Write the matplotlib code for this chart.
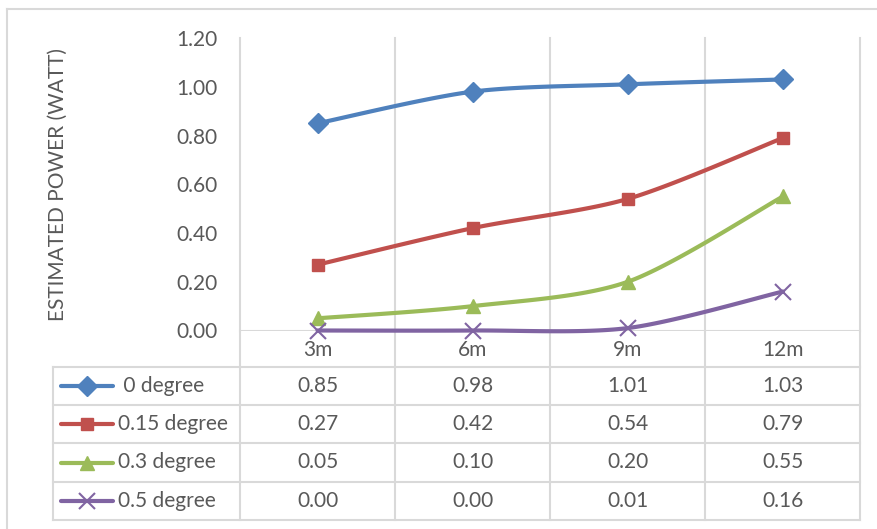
import numpy as np
import matplotlib.pyplot as plt
from matplotlib.lines import Line2D

categories = ["3m", "6m", "9m", "12m"]
series_names = [" 0 degree", "0.15 degree", "0.3 degree", "0.5 degree"]
deg_0 = [0.85, 0.98, 1.01, 1.03]
deg_015 = [0.27, 0.42, 0.54, 0.79]
deg_03 = [0.05, 0.10, 0.20, 0.55]
deg_05 = [0.00, 0.00, 0.01, 0.16]
yticks = [0.0, 0.2, 0.4, 0.6, 0.8, 1.0, 1.2]

colors = ["#4F81BD", "#C0504D", "#9BBB59", "#8064A2"]
markers = ["D", "s", "^", "x"]
msizes = [10, 9, 10, 11]
grid_c = "#D9D9D9"
text_c = "#595959"

plt.rcParams['font.family'] = ['Lato', 'DejaVu Sans']
FS = 15

W, H = 878, 529
fig = plt.figure(figsize=(W / 100, H / 100), dpi=100)

def fx(px):
    return px / W

def fy(py):
    return 1 - py / H

# outer chart border (top and left visible)
fig.add_artist(Line2D([fx(7), fx(878)], [fy(9), fy(9)], color=grid_c, lw=1.5))
fig.add_artist(Line2D([fx(7), fx(7)], [fy(9), fy(529)], color=grid_c, lw=1.5))

L, R, T, B = 240, 860.5, 38, 330.5
ax = fig.add_axes([fx(L), fy(B), fx(R) - fx(L), fy(T) - fy(B)])
ax.set_xlim(0.5, 4.5)
ax.set_ylim(0, 1.2)
for s in ax.spines.values():
    s.set_visible(False)
ax.set_xticks([])
ax.set_yticks(yticks)
ax.set_yticklabels(["%.2f" % v for v in yticks], fontsize=FS, color=text_c)
ax.tick_params(axis='y', length=0, pad=16)
ax.set_ylabel("ESTIMATED POWER (WATT)", fontsize=FS, color=text_c)
ax.yaxis.set_label_coords(-(L - 68) / (R - L), 0.5)


def smooth(xs, ys, n=40, k=7.0):
    # cardinal spline via bezier segments, close to Excel's smoothed line
    xs = np.asarray(xs, float)
    ys = np.asarray(ys, float)
    px = np.concatenate([[xs[0]], xs, [xs[-1]]])
    py = np.concatenate([[ys[0]], ys, [ys[-1]]])
    ox, oy = [], []
    t = np.linspace(0, 1, n)
    for i in range(1, len(px) - 2):
        p0 = np.array([px[i], py[i]])
        p3 = np.array([px[i + 1], py[i + 1]])
        c1 = p0 + (np.array([px[i + 1], py[i + 1]]) - np.array([px[i - 1], py[i - 1]])) / k
        c2 = p3 - (np.array([px[i + 2], py[i + 2]]) - np.array([px[i], py[i]])) / k
        b = ((1 - t) ** 3)[:, None] * p0 + (3 * (1 - t) ** 2 * t)[:, None] * c1 \
            + (3 * (1 - t) * t ** 2)[:, None] * c2 + (t ** 3)[:, None] * p3
        ox.extend(b[:, 0])
        oy.extend(b[:, 1])
    return np.array(ox), np.array(oy)


x = np.arange(1, len(categories) + 1)
all_series = [deg_0, deg_015, deg_03, deg_05]
for vals, c, m, ms in zip(all_series, colors, markers, msizes):
    sx, sy = smooth(x, vals)
    ax.plot(sx, sy, color=c, lw=3, solid_capstyle='round', zorder=3, clip_on=False)
    if m == "x":
        ax.plot(x, vals, ls='none', marker=m, ms=ms, mew=1.5, color=c, zorder=4, clip_on=False)
    else:
        ax.plot(x, vals, ls='none', marker=m, ms=ms, color=c, mec=c, zorder=4, clip_on=False)

# gridlines: vertical lines at category borders, left axis and baseline
bounds = np.arange(0.5, len(categories) + 1, 1.0)
for b in bounds:
    ax.axvline(b, color=grid_c, lw=1.5, zorder=1, clip_on=False)
ax.axhline(0, color=grid_c, lw=1.5, zorder=1)

# data table below the plot
TB = 520
tax = fig.add_axes([fx(53), fy(TB), fx(R) - fx(53), fy(B) - fy(TB)])
tax.set_zorder(-1)
tax.set_xlim(53, R)
tax.set_ylim(TB, B)
tax.axis('off')

col_px = [L + (R - L) * (b - 0.5) / len(categories) for b in bounds]
row_px = [B, 367, 405, 443, 482, TB]
for cx in col_px:
    tax.plot([cx, cx], [B, TB], color=grid_c, lw=1.5, clip_on=False)
tax.plot([53, 53], [row_px[1], TB], color=grid_c, lw=1.5, clip_on=False)
for ry in row_px[1:]:
    tax.plot([53, R], [ry, ry], color=grid_c, lw=1.5, clip_on=False)

centers = [(col_px[i] + col_px[i + 1]) / 2 for i in range(len(categories))]
for cx, cat in zip(centers, categories):
    tax.text(cx, (row_px[0] + row_px[1]) / 2 + 1, cat, ha='center', va='center',
             fontsize=FS, color=text_c)

for r, (name, vals, c, m, ms) in enumerate(zip(series_names, all_series, colors, markers, msizes)):
    yc = (row_px[r + 1] + row_px[r + 2]) / 2
    tax.plot([61, 113], [yc, yc], color=c, lw=3, solid_capstyle='round', clip_on=False)
    if m == "x":
        tax.plot([87], [yc], marker=m, ms=ms, mew=1.5, color=c, clip_on=False)
    else:
        tax.plot([87], [yc], marker=m, ms=ms, color=c, clip_on=False)
    tax.text(118, yc, name, ha='left', va='center', fontsize=FS, color=text_c)
    for cx, v in zip(centers, vals):
        tax.text(cx, yc, "%.2f" % v, ha='center', va='center', fontsize=FS, color=text_c)

fig.savefig("out.png", dpi=100)
